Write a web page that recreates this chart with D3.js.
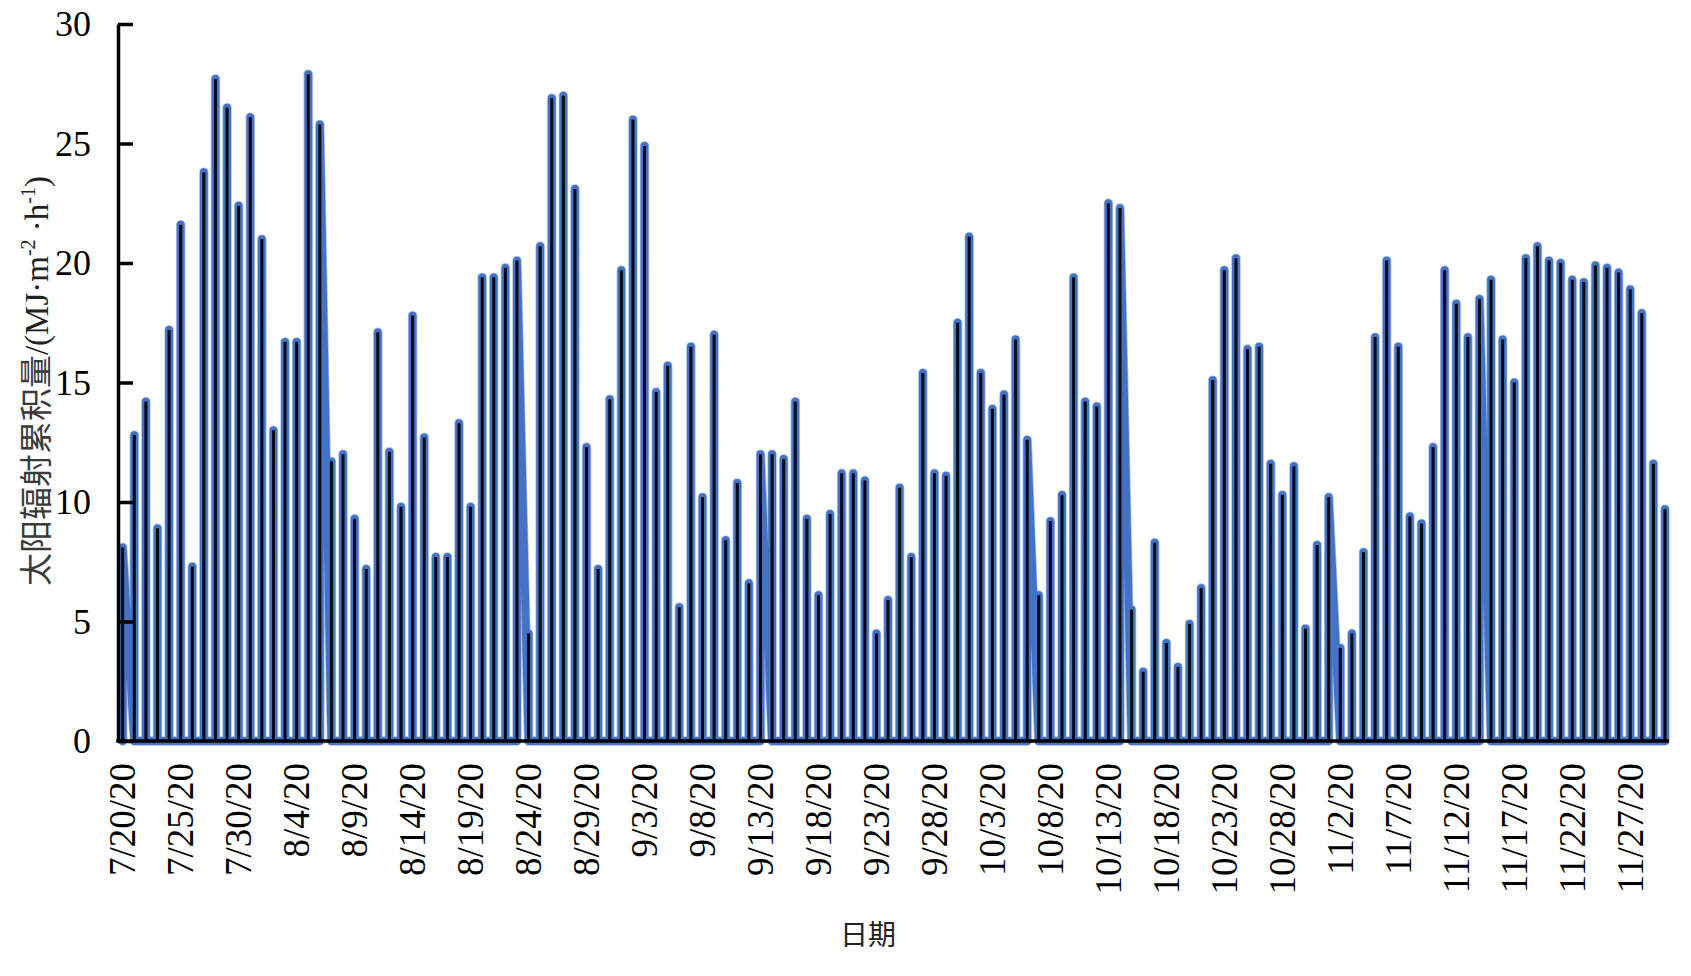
<!DOCTYPE html>
<html>
<head>
<meta charset="utf-8">
<script src="https://cdn.jsdelivr.net/npm/d3@7"></script>
<style>
  html, body { margin: 0; padding: 0; background: #ffffff; }
  svg { display: block; }
</style>
</head>
<body>
<svg width="1691" height="976"></svg>
<script>
// 数据：2020-07-20 起每日太阳辐射累积量
const startDay = "2020-07-20";
const radiation = [
  8.1, 12.8, 14.2, 8.9, 17.2, 21.6, 7.3, 23.8, 27.7, 26.5, 22.4, 26.1,
  21.0, 13.0, 16.7, 16.7, 27.9, 25.8, 11.7, 12.0, 9.3, 7.2, 17.1, 12.1,
  9.8, 17.8, 12.7, 7.7, 7.7, 13.3, 9.8, 19.4, 19.4, 19.8, 20.1, 4.5,
  20.7, 26.9, 27.0, 23.1, 12.3, 7.2, 14.3,
  19.7, 26.0, 24.9, 14.6, 15.7, 5.6, 16.5, 10.2, 17.0, 8.4, 10.8, 6.6,
  12.0, 12.0, 11.8, 14.2, 9.3, 6.1, 9.5, 11.2, 11.2, 10.9, 4.5, 5.9,
  10.6, 7.7, 15.4, 11.2, 11.1, 17.5,
  21.1, 15.4, 13.9, 14.5, 16.8, 12.6, 6.1, 9.2, 10.3, 19.4, 14.2, 14.0,
  22.5, 22.3, 5.5, 2.9, 8.3, 4.1, 3.1, 4.9, 6.4, 15.1, 19.7, 20.2,
  16.4, 16.5, 11.6, 10.3, 11.5, 4.7, 8.2, 10.2, 3.9, 4.5, 7.9, 16.9,
  20.1, 16.5, 9.4, 9.1, 12.3, 19.7, 18.3, 16.9, 18.5, 19.3, 16.8, 15.0,
  20.2, 20.7, 20.1, 20.0, 19.3, 19.2, 19.9, 19.8, 19.6, 18.9, 17.9, 11.6,
  9.7
];
// 这些日期的记录在日末未回零，折线直接连到次日
const endsHigh = ["7/20/20", "8/6/20", "8/23/20", "9/13/20", "10/6/20", "10/14/20", "11/1/20", "11/14/20"];
const tickLabels = [
  "7/20/20", "7/25/20", "7/30/20", "8/4/20", "8/9/20", "8/14/20", "8/19/20",
  "8/24/20", "8/29/20", "9/3/20", "9/8/20", "9/13/20", "9/18/20", "9/23/20",
  "9/28/20", "10/3/20", "10/8/20", "10/13/20", "10/18/20", "10/23/20",
  "10/28/20", "11/2/20", "11/7/20", "11/12/20", "11/17/20", "11/22/20", "11/27/20"
];
const yTicks = [0, 5, 10, 15, 20, 25, 30];

const svg = d3.select("svg"),
  width = +svg.attr("width"),
  height = +svg.attr("height");

const serif = "'Liberation Serif', 'Times New Roman', serif";
const cjk = "'Noto Sans CJK SC', sans-serif";

const fmt = d3.utcFormat("%-m/%-d/%y");
const parseTick = d3.utcParse("%m/%d/%y");
const t0 = d3.utcParse("%Y-%m-%d")(startDay);
const days = radiation.map((v, i) => {
  const date = d3.utcDay.offset(t0, i);
  return { date, value: v, end: endsHigh.includes(fmt(date)) ? v : 0 };
});

// 坐标轴位置
const axisX = 118, axisY = 741, plotRight = 1669;

const x = d3.scaleUtc()
  .domain(d3.extent(days, d => d.date))
  .range([122.7, 1665]);

const y = d3.scaleLinear()
  .domain([0, 30])
  .range([axisY, 24]);

// 日期轴：同一天的逐时点落在同一横坐标上
const pts = [];
days.forEach(d => {
  pts.push([d.date, 0]);
  pts.push([d.date, d.value]);
  pts.push([d.date, d.end]);
});

const line = d3.line()
  .x(p => x(p[0]))
  .y(p => y(p[1]));

// 浅色描边 + 蓝色主线
[["#a9bfe7", 9.4], ["#4472c4", 7.8]].forEach(([c, w]) => {
  svg.append("path")
    .datum(pts)
    .attr("d", line)
    .attr("fill", "none")
    .attr("stroke", c)
    .attr("stroke-width", w)
    .attr("stroke-linejoin", "round")
    .attr("stroke-linecap", "round");
});

// 黑色竖线
svg.append("g")
  .selectAll("line")
  .data(days)
  .join("line")
  .attr("x1", d => x(d.date))
  .attr("x2", d => x(d.date))
  .attr("y1", y(0))
  .attr("y2", d => y(d.value))
  .attr("stroke", "#000814")
  .attr("stroke-width", 3);

// Y 轴
const gy = svg.append("g")
  .attr("transform", `translate(${axisX},0)`)
  .call(d3.axisLeft(y).tickValues(yTicks).tickSizeInner(-15).tickSizeOuter(0).tickPadding(27));
gy.select(".domain").attr("stroke", "#000").attr("stroke-width", 3.5);
gy.selectAll(".tick line").attr("stroke", "#000").attr("stroke-width", 3.5);
gy.selectAll(".tick text")
  .attr("fill", "#000")
  .style("font-family", serif)
  .style("font-size", "36px");

// X 轴
const gx = svg.append("g")
  .attr("transform", `translate(0,${axisY})`)
  .call(d3.axisBottom(x)
    .tickValues(tickLabels.map(parseTick))
    .tickFormat(fmt)
    .tickSize(0));
gx.select(".domain").remove();
gx.selectAll(".tick text")
  .attr("fill", "#000")
  .attr("transform", "rotate(-90)")
  .attr("text-anchor", "end")
  .attr("x", -22)
  .attr("y", 0)
  .attr("dy", "0.33em")
  .style("font-family", serif)
  .style("font-size", "37px");

svg.append("line")
  .attr("x1", axisX - 1.75)
  .attr("x2", plotRight)
  .attr("y1", axisY)
  .attr("y2", axisY)
  .attr("stroke", "#000")
  .attr("stroke-width", 3.5);

// Y 轴标题
const yTitle = svg.append("text")
  .attr("transform", "translate(48,381) rotate(-90)")
  .attr("text-anchor", "middle")
  .style("font-size", "33px")
  .attr("fill", "#222");
yTitle.append("tspan").style("font-family", cjk).attr("fill", "#3a3a3a").text("太阳辐射累积量");
yTitle.append("tspan").style("font-family", serif).text("/(MJ·m");
yTitle.append("tspan").style("font-family", serif).style("font-size", "20px").attr("dy", "-13").text("-2");
yTitle.append("tspan").style("font-family", serif).attr("dy", "13").text(" ·h");
yTitle.append("tspan").style("font-family", serif).style("font-size", "20px").attr("dy", "-13").text("-1");
yTitle.append("tspan").style("font-family", serif).attr("dy", "13").text(")");

// X 轴标题
svg.append("text")
  .attr("x", 868)
  .attr("y", 945)
  .attr("text-anchor", "middle")
  .style("font-family", cjk)
  .style("font-size", "28px")
  .attr("fill", "#222")
  .text("日期");
</script>
</body>
</html>
